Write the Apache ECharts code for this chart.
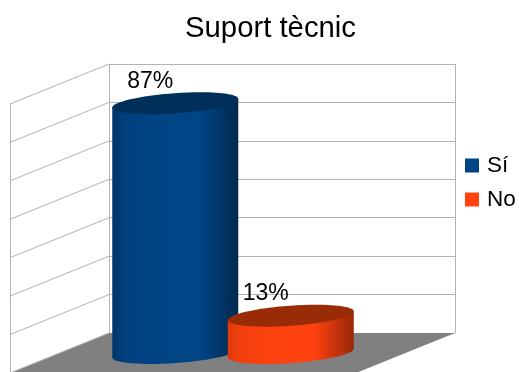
<!DOCTYPE html>
<html>
<head>
<meta charset="utf-8">
<style>html,body{margin:0;padding:0;background:#fff}#c{width:519px;height:372px}</style>
<script src="https://cdn.jsdelivr.net/npm/echarts@6/dist/echarts.min.js"></script>
</head>
<body>
<div id="c"></div>
<script>
const categories = ['Sí', 'No'];
const siValues = [87];
const noValues = [13];
const wallTicks = [0, 1, 2, 3, 4, 5, 6, 7];
const titleText = 'Suport tècnic';

const FONT = '"Liberation Sans", Arial, sans-serif';
const GRID_COLOR = '#b3b3b3';
const DEPTH_X = -99, DEPTH_Y = 40;

function cylinder(cols) {
  return function (params, api) {
    const catIdx = params.seriesIndex - 2;
    const value = api.value(0);
    const top = api.coord([catIdx, value]);
    const base = api.coord([catIdx, 0]);
    const rx = 63, ry = 10, tilt = 4.5;
    const cx = top[0];
    const grad = {
      type: 'linear', x: 0, y: 0, x2: 1, y2: 0,
      colorStops: [
        { offset: 0, color: cols.left },
        { offset: 0.12, color: cols.mid1 },
        { offset: 0.5, color: cols.main },
        { offset: 0.68, color: cols.main },
        { offset: 1, color: cols.right }
      ]
    };
    const ellipse = (y, fill) => ({
      type: 'ellipse',
      x: cx, y: y,
      rotation: 4.1 * Math.PI / 180,
      shape: { cx: 0, cy: 0, rx: rx + 0.2, ry: ry },
      style: { fill: fill }
    });
    return {
      type: 'group',
      children: [
        ellipse(base[1], grad),
        {
          type: 'polygon',
          shape: { points: [
            [cx - rx, top[1] + tilt], [cx + rx, top[1] - tilt],
            [cx + rx, base[1] - tilt], [cx - rx, base[1] + tilt]
          ] },
          style: { fill: grad }
        },
        ellipse(top[1], cols.top),
        {
          type: 'text',
          x: cx - 25, y: top[1] - 22,
          style: {
            text: value + '%', fill: '#000', font: '23px ' + FONT,
            align: 'center', verticalAlign: 'middle'
          }
        }
      ]
    };
  };
}

const option = {
  animation: false,
  backgroundColor: '#fff',
  title: {
    text: titleText, left: 180, top: 9,
    textStyle: { fontFamily: FONT, fontSize: 29.3, fontWeight: 'normal', color: '#000' }
  },
  legend: {
    orient: 'vertical', left: 460, top: 149, itemWidth: 14, itemHeight: 14, itemGap: 11,
    icon: 'rect', data: categories,
    textStyle: { fontFamily: FONT, fontSize: 22.5, color: '#000', padding: [0, 0, 0, 3] }
  },
  grid: [
    { left: 109, right: 64, top: 64, bottom: 39 },
    { left: 117.5, right: 170.5, top: 66, bottom: 19 }
  ],
  xAxis: [
    { gridIndex: 0, type: 'value', min: 0, max: 1, interval: 1, axisLine: { show: false }, axisTick: { show: false },
      axisLabel: { show: false }, splitLine: { show: true, lineStyle: { color: GRID_COLOR, width: 1 } } },
    { gridIndex: 1, type: 'category', data: categories, axisLine: { show: false }, axisTick: { show: false },
      axisLabel: { show: false }, splitLine: { show: false } }
  ],
  yAxis: [
    { gridIndex: 0, type: 'value', min: 0, max: 7, interval: 1, axisLine: { show: false }, axisTick: { show: false },
      axisLabel: { show: false }, splitLine: { show: true, lineStyle: { color: GRID_COLOR, width: 1 } } },
    { gridIndex: 1, type: 'value', min: 0, max: 100, axisLine: { show: false }, axisTick: { show: false },
      axisLabel: { show: false }, splitLine: { show: false } }
  ],
  series: [
    {
      type: 'custom', name: 'floor', xAxisIndex: 0, yAxisIndex: 0, z: 1, silent: true,
      data: [[0, 0]],
      renderItem(params, api) {
        const a = api.coord([0, 0]), b = api.coord([1, 0]);
        return { type: 'polygon',
          shape: { points: [a, b, [b[0] + DEPTH_X, b[1] + DEPTH_Y], [a[0] + DEPTH_X, a[1] + DEPTH_Y]] },
          style: { fill: '#808080' } };
      }
    },
    {
      type: 'custom', name: 'wall', xAxisIndex: 0, yAxisIndex: 0, z: 2, silent: true,
      data: wallTicks.map(v => [v]),
      renderItem(params, api) {
        const p = api.coord([0, api.value(0)]);
        const lineStyle = { stroke: GRID_COLOR, lineWidth: 1, fill: null };
        const children = [{
          type: 'line',
          shape: { x1: p[0], y1: p[1], x2: p[0] + DEPTH_X, y2: p[1] + DEPTH_Y },
          style: lineStyle
        }];
        if (api.value(0) === 7) {
          children.push({
            type: 'line',
            shape: { x1: p[0] + DEPTH_X + 0.5, y1: p[1] + DEPTH_Y, x2: p[0] + DEPTH_X + 0.5, y2: 372 },
            style: lineStyle
          });
        }
        return { type: 'group', children };
      }
    },
    {
      type: 'custom', name: categories[0], xAxisIndex: 1, yAxisIndex: 1, z: 3,
      itemStyle: { color: '#004586' },
      data: siValues.map(v => [v]),
      encode: { y: 0 },
      renderItem: cylinder({ left: '#00376b', mid1: '#004180', main: '#004586', right: '#002a50', top: '#002f5a' })
    },
    {
      type: 'custom', name: categories[1], xAxisIndex: 1, yAxisIndex: 1, z: 4,
      itemStyle: { color: '#ff420e' },
      data: noValues.map(v => [v]),
      encode: { y: 0 },
      renderItem: cylinder({ left: '#e03a0c', mid1: '#f5400d', main: '#ff420e', right: '#992709', top: '#992b07' })
    }
  ]
};
echarts.init(document.getElementById('c'), null, { renderer: 'canvas' }).setOption(option);
</script>
</body>
</html>
